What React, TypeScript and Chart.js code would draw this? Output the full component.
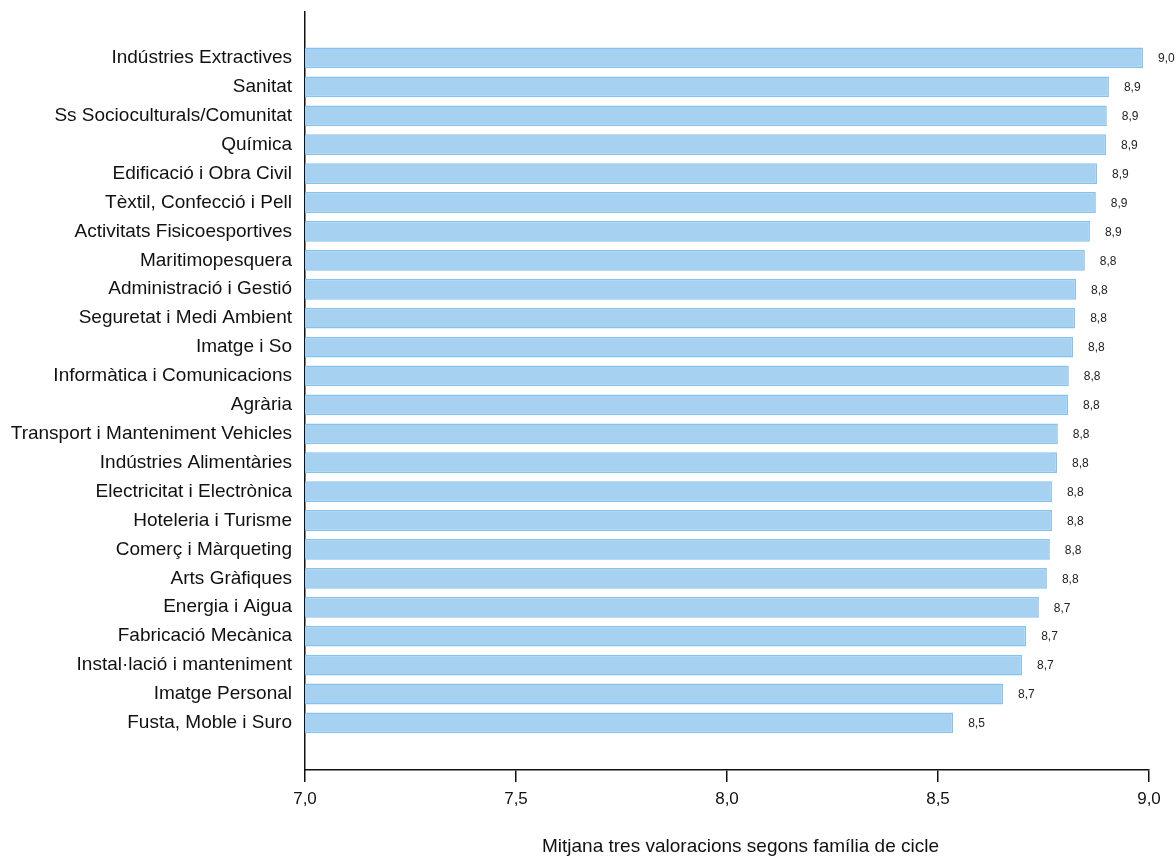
import React, { useEffect, useRef } from "react";
import { Chart, registerables } from "chart.js";

Chart.register(...registerables);

const categories: string[] = [
  "Indústries Extractives",
  "Sanitat",
  "Ss Socioculturals/Comunitat",
  "Química",
  "Edificació i Obra Civil",
  "Tèxtil, Confecció i Pell",
  "Activitats Fisicoesportives",
  "Maritimopesquera",
  "Administració i Gestió",
  "Seguretat i Medi Ambient",
  "Imatge i So",
  "Informàtica i Comunicacions",
  "Agrària",
  "Transport i Manteniment Vehicles",
  "Indústries Alimentàries",
  "Electricitat i Electrònica",
  "Hoteleria i Turisme",
  "Comerç i Màrqueting",
  "Arts Gràfiques",
  "Energia i Aigua",
  "Fabricació Mecànica",
  "Instal·lació i manteniment",
  "Imatge Personal",
  "Fusta, Moble i Suro",
];

const values: number[] = [
  8.986, 8.905, 8.9, 8.898, 8.877, 8.874, 8.86, 8.848, 8.827, 8.825, 8.82,
  8.81, 8.808, 8.784, 8.782, 8.77, 8.77, 8.765, 8.758, 8.739, 8.709, 8.699,
  8.654, 8.536,
];

const xTickValues: number[] = [7.0, 7.5, 8.0, 8.5, 9.0];
const axisTitle = "Mitjana tres valoracions segons família de cicle";

const FONT = "'Liberation Sans', Arial, Helvetica, sans-serif";

const fmt = (v: number) => v.toFixed(1).replace(".", ",");

const valueLabels = {
  id: "valueLabels",
  afterDatasetsDraw(chart: any) {
    const ctx = chart.ctx;
    const meta = chart.getDatasetMeta(0);
    ctx.save();
    ctx.font = `12px ${FONT}`;
    ctx.fillStyle = "#222";
    ctx.textAlign = "left";
    ctx.textBaseline = "middle";
    meta.data.forEach((el: any, i: number) => {
      ctx.fillText(fmt(values[i]), el.x + 15, el.y + 1);
    });
    ctx.restore();
  },
};

const xTitle = {
  id: "xTitle",
  afterDraw(chart: any) {
    const ctx = chart.ctx;
    const xs = chart.scales.x;
    ctx.save();
    ctx.font = `19px ${FONT}`;
    ctx.fillStyle = "#111";
    ctx.textAlign = "center";
    ctx.textBaseline = "middle";
    ctx.fillText(axisTitle, (xs.left + chart.width) / 2, xs.bottom - 9);
    ctx.restore();
  },
};

export default function App() {
  const ref = useRef<HTMLCanvasElement | null>(null);
  useEffect(() => {
    document.body.style.margin = "0";
    const chart = new Chart(ref.current!, {
      type: "bar",
      data: {
        datasets: [
          {
            data: values.map((v, i) => ({ x: v, y: i })),
            backgroundColor: "#a6d1f0",
            borderColor: "#86c2ec",
            borderWidth: 1.5,
            barPercentage: 0.72,
            categoryPercentage: 1,
          },
        ],
      },
      plugins: [valueLabels, xTitle],
      options: {
        indexAxis: "y",
        animation: false,
        responsive: true,
        maintainAspectRatio: false,
        layout: { padding: { top: 12, right: 27, bottom: 0, left: 0 } },
        plugins: { legend: { display: false }, tooltip: { enabled: false } },
        scales: {
          x: {
            type: "linear",
            min: 7,
            max: 9,
            bounds: "data",
            afterBuildTicks: (scale: any) => {
              scale.ticks = xTickValues.map((v) => ({ value: v }));
            },
            afterFit: (scale: any) => {
              scale.height = 86;
            },
            grid: {
              drawOnChartArea: false,
              drawTicks: true,
              tickLength: 12,
              color: "#111",
              lineWidth: 1.5,
            },
            border: { display: true, color: "#111", width: 1.5 },
            ticks: {
              color: "#111",
              font: { family: FONT, size: 17 },
              padding: 7,
              callback: (v: any) => fmt(Number(v)),
            },
            title: { display: false },
          },
          y: {
            type: "linear",
            reverse: true,
            offset: false,
            min: -1.59,
            max: 24.63,
            bounds: "data",
            afterBuildTicks: (scale: any) => {
              scale.ticks = categories.map((_, i) => ({ value: i }));
            },
            afterFit: (scale: any) => {
              scale.width = 305;
              scale.paddingTop = 0;
              scale.paddingBottom = 0;
            },
            grid: { display: false, drawTicks: false, offset: false },
            border: { display: true, color: "#111", width: 1.5 },
            ticks: {
              autoSkip: false,
              color: "#111",
              font: { family: FONT, size: 19 },
              padding: 13,
              callback: (v: any) => categories[Number(v)] ?? "",
            },
          },
        },
      },
    } as any);
    return () => chart.destroy();
  }, []);
  return (
    <div style={{ width: "1176px", height: "856px", position: "relative" }}>
      <canvas ref={ref} />
    </div>
  );
}
